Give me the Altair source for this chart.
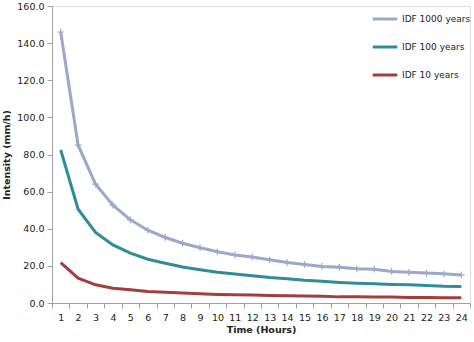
import altair as alt
import pandas as pd

hours = list(range(1, 25))
idf_1000 = [146.0, 85.0, 64.0, 52.7, 44.8, 39.2, 35.3, 32.2, 29.8, 27.6, 25.9, 24.8,
            23.3, 21.8, 20.8, 19.7, 19.3, 18.4, 18.2, 17.0, 16.5, 16.1, 15.7, 15.1]
idf_100 = [82.4, 50.5, 38.0, 31.3, 26.9, 23.6, 21.4, 19.4, 17.9, 16.6, 15.6, 14.7,
           13.7, 13.0, 12.2, 11.7, 11.1, 10.7, 10.4, 10.0, 9.8, 9.4, 9.0, 8.9]
idf_10 = [21.8, 13.4, 9.8, 8.0, 7.1, 6.2, 5.8, 5.4, 5.0, 4.6, 4.4, 4.3,
          4.1, 3.9, 3.8, 3.7, 3.3, 3.3, 3.2, 3.2, 2.9, 2.9, 2.8, 2.8]
series = ["IDF 1000 years", "IDF 100 years", "IDF 10 years"]
colors = ["#9BA8CA", "#2F8C98", "#A23F3D"]
y_ticks = [0, 20, 40, 60, 80, 100, 120, 140, 160]

rows = []
for name, vals in zip(series, [idf_1000, idf_100, idf_10]):
    for h, v in zip(hours, vals):
        rows.append({"Hour": h, "Intensity": v, "Series": name})
df = pd.DataFrame(rows)

FONT = "DejaVu Sans"

x = alt.X("Hour:O", title="Time (Hours)",
          scale=alt.Scale(paddingInner=0, paddingOuter=0),
          axis=alt.Axis(labelAngle=0, tickBand="extent", labelFontSize=9.5,
                        labelFont=FONT, labelColor="#222", titleFont=FONT,
                        titleFontSize=9.5, titleFontWeight="bold", titleColor="#222",
                        domainColor="#A0A0A0", tickColor="#A0A0A0", tickSize=5,
                        labelPadding=4, titlePadding=3, grid=False))
y = alt.Y("Intensity:Q", title="Intensity  (mm/h)",
          scale=alt.Scale(domain=[0, 160], nice=False),
          axis=alt.Axis(values=y_ticks, format=".1f", labelFontSize=9.5,
                        labelFont=FONT, labelColor="#222", titleFont=FONT,
                        titleFontSize=9.5, titleFontWeight="bold", titleColor="#222",
                        domainColor="#A0A0A0", tickColor="#A0A0A0", tickSize=5,
                        labelPadding=3, titlePadding=5, grid=False))
color = alt.Color("Series:N", scale=alt.Scale(domain=series, range=colors),
                  legend=alt.Legend(title=None, orient="none", legendX=319, legendY=-1,
                                    symbolType="stroke", symbolSize=600,
                                    symbolStrokeWidth=3, labelFontSize=9,
                                    labelFont=FONT, labelColor="#222",
                                    rowPadding=8, labelOffset=3))

lines = alt.Chart(df).mark_line(strokeWidth=3).encode(x=x, y=y, color=color)
marks = alt.Chart(df[df["Series"] == "IDF 1000 years"]).mark_point(
    shape="M-1,0L1,0M0,-1L0,1", size=45, strokeWidth=1.2, filled=False,
    color="#9BA8CA", opacity=1
).encode(x=x, y=y)

chart = alt.layer(lines, marks).properties(
    width=418, height=297,
    autosize=alt.AutoSizeParams(type="none"),
    padding={"left": 52, "top": 6, "right": 4, "bottom": 39},
).configure_view(stroke=None).configure(background="white")

chart.save("out.html", embed_options={"renderer": "svg", "actions": False})
